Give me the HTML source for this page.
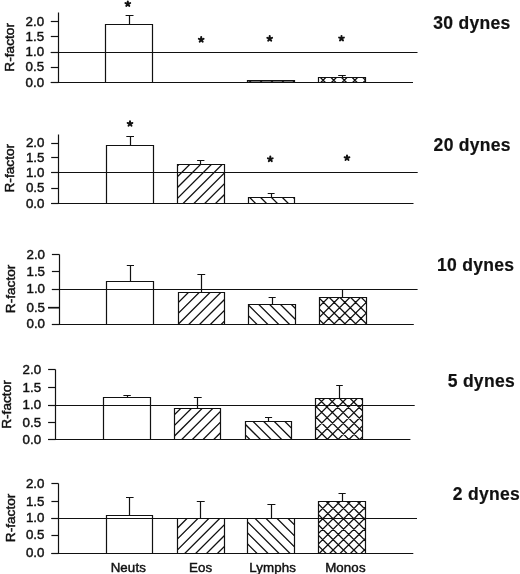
<!DOCTYPE html>
<html><head><meta charset="utf-8"><style>
html,body{margin:0;padding:0;background:#fff;width:520px;height:574px;overflow:hidden}
svg{display:block;filter:grayscale(1)}
text{font-family:"Liberation Sans", sans-serif;fill:#111;stroke:#111;stroke-width:0.3px}
.tk{font-size:13.3px;stroke-width:0.45px}
.yl{font-size:13.7px;stroke-width:0.45px}
.xl{font-size:13.3px;letter-spacing:0.12px;stroke-width:0.45px}
.ti{font-size:17.5px;font-weight:bold;stroke-width:0.2px;letter-spacing:0.3px}
</style></head><body>
<svg width="520" height="574" viewBox="0 0 520 574">
<defs><clipPath id="c02"><rect x="247.5" y="80.5" width="47.0" height="2.0"/></clipPath><clipPath id="c03"><rect x="318.5" y="77.5" width="47.0" height="5.0"/></clipPath><clipPath id="c11"><rect x="177.5" y="164.5" width="47.0" height="39.0"/></clipPath><clipPath id="c12"><rect x="248.5" y="197.5" width="46.0" height="6.0"/></clipPath><clipPath id="c21"><rect x="178.5" y="292.5" width="46.0" height="32.0"/></clipPath><clipPath id="c22"><rect x="248.5" y="304.5" width="47.0" height="20.0"/></clipPath><clipPath id="c23"><rect x="319.5" y="297.5" width="47.0" height="27.0"/></clipPath><clipPath id="c31"><rect x="174.5" y="408.5" width="46.0" height="31.0"/></clipPath><clipPath id="c32"><rect x="245.5" y="421.5" width="46.0" height="18.0"/></clipPath><clipPath id="c33"><rect x="315.5" y="398.5" width="47.0" height="41.0"/></clipPath><clipPath id="c41"><rect x="177.5" y="518.5" width="47.0" height="35.0"/></clipPath><clipPath id="c42"><rect x="247.5" y="518.5" width="47.0" height="35.0"/></clipPath><clipPath id="c43"><rect x="318.5" y="501.5" width="47.0" height="52.0"/></clipPath></defs>
<path d="M129.5 24.5V15.5M125.6 15.5H133.5" stroke="#111" stroke-width="1.2" fill="none"/>
<path d="M105.5 82.5V24.5H152.5V82.5" stroke="#111" stroke-width="1.2" fill="none"/>
<rect x="247.5" y="80.5" width="47.0" height="2.0" fill="#777"/>
<path clip-path="url(#c02)" d="M235.30 77.5L243.30 85.5M246.20 77.5L254.20 85.5M257.10 77.5L265.10 85.5M268.00 77.5L276.00 85.5M278.90 77.5L286.90 85.5M289.80 77.5L297.80 85.5" stroke="#111" stroke-width="1.3" fill="none"/>
<path d="M247.5 82.5V80.5H294.5V82.5" stroke="#111" stroke-width="1.2" fill="none"/>
<path clip-path="url(#c03)" d="M318.20 74.5L307.20 85.5M328.80 74.5L317.80 85.5M339.40 74.5L328.40 85.5M350.00 74.5L339.00 85.5M360.60 74.5L349.60 85.5M371.20 74.5L360.20 85.5M306.80 74.5L317.80 85.5M317.40 74.5L328.40 85.5M328.00 74.5L339.00 85.5M338.60 74.5L349.60 85.5M349.20 74.5L360.20 85.5M359.80 74.5L370.80 85.5" stroke="#111" stroke-width="1.3" fill="none"/>
<path d="M342.5 77.5V75.5M338.2 75.5H345.8" stroke="#111" stroke-width="1.2" fill="none"/>
<path d="M318.5 82.5V77.5H365.5V82.5" stroke="#111" stroke-width="1.2" fill="none"/>
<path d="M58.5 12.5V82.5" stroke="#111" stroke-width="1.2" fill="none"/>
<path d="M50.8 82.5H58.5" stroke="#111" stroke-width="1.2"/>
<path d="M50.8 67.5H58.5" stroke="#111" stroke-width="1.2"/>
<path d="M50.8 52.5H58.5" stroke="#111" stroke-width="1.2"/>
<path d="M50.8 36.5H58.5" stroke="#111" stroke-width="1.2"/>
<path d="M50.8 21.5H58.5" stroke="#111" stroke-width="1.2"/>
<path d="M50.8 82.5H413" stroke="#111" stroke-width="1.2"/>
<path d="M50.8 52.5H417.5" stroke="#111" stroke-width="1.2"/>
<text x="44.1" y="86.6" text-anchor="end" class="tk">0.0</text>
<text x="44.1" y="71.3" text-anchor="end" class="tk">0.5</text>
<text x="44.1" y="56.4" text-anchor="end" class="tk">1.0</text>
<text x="44.1" y="41.0" text-anchor="end" class="tk">1.5</text>
<text x="44.1" y="25.8" text-anchor="end" class="tk">2.0</text>
<text transform="translate(14.0,47.3) rotate(-90)" text-anchor="middle" class="yl">R-factor</text>
<text x="433.2" y="29.4" class="ti">30 dynes</text>
<path d="M127.80 3.90L127.80 1.40M127.80 3.90L130.18 3.13M127.80 3.90L129.27 5.92M127.80 3.90L126.33 5.92M127.80 3.90L125.42 3.13" stroke="#111" stroke-width="2.0" stroke-linecap="round" fill="none"/>
<path d="M201.20 39.60L201.20 37.10M201.20 39.60L203.58 38.83M201.20 39.60L202.67 41.62M201.20 39.60L199.73 41.62M201.20 39.60L198.82 38.83" stroke="#111" stroke-width="2.0" stroke-linecap="round" fill="none"/>
<path d="M269.70 38.60L269.70 36.10M269.70 38.60L272.08 37.83M269.70 38.60L271.17 40.62M269.70 38.60L268.23 40.62M269.70 38.60L267.32 37.83" stroke="#111" stroke-width="2.0" stroke-linecap="round" fill="none"/>
<path d="M341.50 38.40L341.50 35.90M341.50 38.40L343.88 37.63M341.50 38.40L342.97 40.42M341.50 38.40L340.03 40.42M341.50 38.40L339.12 37.63" stroke="#111" stroke-width="2.0" stroke-linecap="round" fill="none"/>
<path d="M130.5 145.5V136.5M126.3 136.5H134" stroke="#111" stroke-width="1.2" fill="none"/>
<path d="M106.5 203.5V145.5H153.5V203.5" stroke="#111" stroke-width="1.2" fill="none"/>
<path clip-path="url(#c11)" d="M171.10 161.5L126.10 206.5M181.90 161.5L136.90 206.5M192.70 161.5L147.70 206.5M203.50 161.5L158.50 206.5M214.30 161.5L169.30 206.5M225.10 161.5L180.10 206.5M235.90 161.5L190.90 206.5M246.70 161.5L201.70 206.5M257.50 161.5L212.50 206.5M268.30 161.5L223.30 206.5" stroke="#111" stroke-width="1.3" fill="none"/>
<path d="M200.5 164.5V160.5M197.1 160.5H204.4" stroke="#111" stroke-width="1.2" fill="none"/>
<path d="M177.5 203.5V164.5H224.5V203.5" stroke="#111" stroke-width="1.2" fill="none"/>
<path clip-path="url(#c12)" d="M235.80 194.5L247.80 206.5M246.70 194.5L258.70 206.5M257.60 194.5L269.60 206.5M268.50 194.5L280.50 206.5M279.40 194.5L291.40 206.5M290.30 194.5L302.30 206.5" stroke="#111" stroke-width="1.3" fill="none"/>
<path d="M271.5 197.5V193.5M267.7 193.5H274.6" stroke="#111" stroke-width="1.2" fill="none"/>
<path d="M248.5 203.5V197.5H294.5V203.5" stroke="#111" stroke-width="1.2" fill="none"/>
<path d="M58.5 134.5V203.5" stroke="#111" stroke-width="1.2" fill="none"/>
<path d="M51.2 203.5H58.5" stroke="#111" stroke-width="1.2"/>
<path d="M51.2 188.5H58.5" stroke="#111" stroke-width="1.2"/>
<path d="M51.2 172.5H58.5" stroke="#111" stroke-width="1.2"/>
<path d="M51.2 157.5H58.5" stroke="#111" stroke-width="1.2"/>
<path d="M51.2 143.5H58.5" stroke="#111" stroke-width="1.2"/>
<path d="M51.2 203.5H413.5" stroke="#111" stroke-width="1.2"/>
<path d="M51.2 172.5H417.7" stroke="#111" stroke-width="1.2"/>
<text x="44.4" y="207.6" text-anchor="end" class="tk">0.0</text>
<text x="44.4" y="192.2" text-anchor="end" class="tk">0.5</text>
<text x="44.4" y="176.8" text-anchor="end" class="tk">1.0</text>
<text x="44.4" y="161.9" text-anchor="end" class="tk">1.5</text>
<text x="44.4" y="147.2" text-anchor="end" class="tk">2.0</text>
<text transform="translate(14.3,168.2) rotate(-90)" text-anchor="middle" class="yl">R-factor</text>
<text x="433.6" y="150.6" class="ti">20 dynes</text>
<path d="M130.00 123.70L130.00 121.20M130.00 123.70L132.38 122.93M130.00 123.70L131.47 125.72M130.00 123.70L128.53 125.72M130.00 123.70L127.62 122.93" stroke="#111" stroke-width="2.0" stroke-linecap="round" fill="none"/>
<path d="M270.30 159.10L270.30 156.60M270.30 159.10L272.68 158.33M270.30 159.10L271.77 161.12M270.30 159.10L268.83 161.12M270.30 159.10L267.92 158.33" stroke="#111" stroke-width="2.0" stroke-linecap="round" fill="none"/>
<path d="M347.00 158.00L347.00 155.50M347.00 158.00L349.38 157.23M347.00 158.00L348.47 160.02M347.00 158.00L345.53 160.02M347.00 158.00L344.62 157.23" stroke="#111" stroke-width="2.0" stroke-linecap="round" fill="none"/>
<path d="M130.5 281.5V265.5M126.8 265.5H134" stroke="#111" stroke-width="1.2" fill="none"/>
<path d="M106.5 324.5V281.5H153.5V324.5" stroke="#111" stroke-width="1.2" fill="none"/>
<path clip-path="url(#c21)" d="M169.84 289.5L131.84 327.5M180.62 289.5L142.62 327.5M191.40 289.5L153.40 327.5M202.18 289.5L164.18 327.5M212.96 289.5L174.96 327.5M223.74 289.5L185.74 327.5M234.52 289.5L196.52 327.5M245.30 289.5L207.30 327.5M256.08 289.5L218.08 327.5" stroke="#111" stroke-width="1.3" fill="none"/>
<path d="M201.5 292.5V274.5M197.4 274.5H205.2" stroke="#111" stroke-width="1.2" fill="none"/>
<path d="M178.5 324.5V292.5H224.5V324.5" stroke="#111" stroke-width="1.2" fill="none"/>
<path clip-path="url(#c22)" d="M223.25 301.5L249.25 327.5M234.10 301.5L260.10 327.5M244.95 301.5L270.95 327.5M255.80 301.5L281.80 327.5M266.65 301.5L292.65 327.5M277.50 301.5L303.50 327.5M288.35 301.5L314.35 327.5" stroke="#111" stroke-width="1.3" fill="none"/>
<path d="M272.5 304.5V297.5M268.6 297.5H275.7" stroke="#111" stroke-width="1.2" fill="none"/>
<path d="M248.5 324.5V304.5H295.5V324.5" stroke="#111" stroke-width="1.2" fill="none"/>
<path clip-path="url(#c23)" d="M310.00 294.5L277.00 327.5M320.70 294.5L287.70 327.5M331.40 294.5L298.40 327.5M342.10 294.5L309.10 327.5M352.80 294.5L319.80 327.5M363.50 294.5L330.50 327.5M374.20 294.5L341.20 327.5M384.90 294.5L351.90 327.5M395.60 294.5L362.60 327.5M283.50 294.5L316.50 327.5M294.20 294.5L327.20 327.5M304.90 294.5L337.90 327.5M315.60 294.5L348.60 327.5M326.30 294.5L359.30 327.5M337.00 294.5L370.00 327.5M347.70 294.5L380.70 327.5M358.40 294.5L391.40 327.5" stroke="#111" stroke-width="1.3" fill="none"/>
<path d="M342.5 297.5V289.5M339 289.5H346" stroke="#111" stroke-width="1.2" fill="none"/>
<path d="M319.5 324.5V297.5H366.5V324.5" stroke="#111" stroke-width="1.2" fill="none"/>
<path d="M59.5 254.5V324.5" stroke="#111" stroke-width="1.2" fill="none"/>
<path d="M51.9 324.5H59.5" stroke="#111" stroke-width="1.2"/>
<path d="M48 307.7H59.5" stroke="#111" stroke-width="1.7"/>
<path d="M51.9 289.5H59.5" stroke="#111" stroke-width="1.2"/>
<path d="M51.9 271.5H59.5" stroke="#111" stroke-width="1.2"/>
<path d="M51.9 254.5H59.5" stroke="#111" stroke-width="1.2"/>
<path d="M51.9 324.5H413.8" stroke="#111" stroke-width="1.2"/>
<path d="M51.9 289.5H417.6" stroke="#111" stroke-width="1.2"/>
<text x="45.0" y="328.3" text-anchor="end" class="tk">0.0</text>
<text x="45.0" y="311.8" text-anchor="end" class="tk">0.5</text>
<text x="45.0" y="293.3" text-anchor="end" class="tk">1.0</text>
<text x="45.0" y="275.5" text-anchor="end" class="tk">1.5</text>
<text x="45.0" y="258.5" text-anchor="end" class="tk">2.0</text>
<text transform="translate(14.5,288.9) rotate(-90)" text-anchor="middle" class="yl">R-factor</text>
<text x="437.0" y="271.3" class="ti">10 dynes</text>
<path d="M127.5 397.5V395.5M123.4 395.5H130.8" stroke="#111" stroke-width="1.2" fill="none"/>
<path d="M103.5 439.5V397.5H150.5V439.5" stroke="#111" stroke-width="1.2" fill="none"/>
<path clip-path="url(#c31)" d="M173.03 405.5L136.03 442.5M183.70 405.5L146.70 442.5M194.37 405.5L157.37 442.5M205.04 405.5L168.04 442.5M215.71 405.5L178.71 442.5M226.38 405.5L189.38 442.5M237.05 405.5L200.05 442.5M247.72 405.5L210.72 442.5" stroke="#111" stroke-width="1.3" fill="none"/>
<path d="M197.5 408.5V397.5M193.9 397.5H201.7" stroke="#111" stroke-width="1.2" fill="none"/>
<path d="M174.5 439.5V408.5H220.5V439.5" stroke="#111" stroke-width="1.2" fill="none"/>
<path clip-path="url(#c32)" d="M218.30 418.5L242.30 442.5M228.90 418.5L252.90 442.5M239.50 418.5L263.50 442.5M250.10 418.5L274.10 442.5M260.70 418.5L284.70 442.5M271.30 418.5L295.30 442.5M281.90 418.5L305.90 442.5" stroke="#111" stroke-width="1.3" fill="none"/>
<path d="M268.5 421.5V417.5M265 417.5H272.1" stroke="#111" stroke-width="1.2" fill="none"/>
<path d="M245.5 439.5V421.5H291.5V439.5" stroke="#111" stroke-width="1.2" fill="none"/>
<path clip-path="url(#c33)" d="M305.70 395.5L258.70 442.5M316.60 395.5L269.60 442.5M327.50 395.5L280.50 442.5M338.40 395.5L291.40 442.5M349.30 395.5L302.30 442.5M360.20 395.5L313.20 442.5M371.10 395.5L324.10 442.5M382.00 395.5L335.00 442.5M392.90 395.5L345.90 442.5M403.80 395.5L356.80 442.5M262.45 395.5L309.45 442.5M273.05 395.5L320.05 442.5M283.65 395.5L330.65 442.5M294.25 395.5L341.25 442.5M304.85 395.5L351.85 442.5M315.45 395.5L362.45 442.5M326.05 395.5L373.05 442.5M336.65 395.5L383.65 442.5M347.25 395.5L394.25 442.5M357.85 395.5L404.85 442.5" stroke="#111" stroke-width="1.3" fill="none"/>
<path d="M339.5 398.5V385.5M336.2 385.5H342.8" stroke="#111" stroke-width="1.2" fill="none"/>
<path d="M315.5 439.5V398.5H362.5V439.5" stroke="#111" stroke-width="1.2" fill="none"/>
<path d="M55.5 369.5V439.5" stroke="#111" stroke-width="1.2" fill="none"/>
<path d="M48.1 439.5H55.5" stroke="#111" stroke-width="1.2"/>
<path d="M48.1 422.5H55.5" stroke="#111" stroke-width="1.2"/>
<path d="M48.1 405.5H55.5" stroke="#111" stroke-width="1.2"/>
<path d="M48.1 387.5H55.5" stroke="#111" stroke-width="1.2"/>
<path d="M48.1 369.5H55.5" stroke="#111" stroke-width="1.2"/>
<path d="M48.1 439.5H410.4" stroke="#111" stroke-width="1.2"/>
<path d="M48.1 405.5H414.7" stroke="#111" stroke-width="1.2"/>
<text x="41.1" y="443.7" text-anchor="end" class="tk">0.0</text>
<text x="41.1" y="426.5" text-anchor="end" class="tk">0.5</text>
<text x="41.1" y="409.2" text-anchor="end" class="tk">1.0</text>
<text x="41.1" y="391.5" text-anchor="end" class="tk">1.5</text>
<text x="41.1" y="373.8" text-anchor="end" class="tk">2.0</text>
<text transform="translate(11.3,404.5) rotate(-90)" text-anchor="middle" class="yl">R-factor</text>
<text x="447.7" y="387.2" class="ti">5 dynes</text>
<path d="M129.5 515.5V497.5M126 497.5H133.6" stroke="#111" stroke-width="1.2" fill="none"/>
<path d="M106.5 553.5V515.5H152.5V553.5" stroke="#111" stroke-width="1.2" fill="none"/>
<path clip-path="url(#c41)" d="M168.20 515.5L127.20 556.5M179.10 515.5L138.10 556.5M190.00 515.5L149.00 556.5M200.90 515.5L159.90 556.5M211.80 515.5L170.80 556.5M222.70 515.5L181.70 556.5M233.60 515.5L192.60 556.5M244.50 515.5L203.50 556.5M255.40 515.5L214.40 556.5" stroke="#111" stroke-width="1.3" fill="none"/>
<path d="M200.5 518.5V501.5M196.8 501.5H204.7" stroke="#111" stroke-width="1.2" fill="none"/>
<path d="M177.5 553.5V518.5H224.5V553.5" stroke="#111" stroke-width="1.2" fill="none"/>
<path clip-path="url(#c42)" d="M197.10 515.5L238.10 556.5M208.10 515.5L249.10 556.5M219.10 515.5L260.10 556.5M230.10 515.5L271.10 556.5M241.10 515.5L282.10 556.5M252.10 515.5L293.10 556.5M263.10 515.5L304.10 556.5M274.10 515.5L315.10 556.5M285.10 515.5L326.10 556.5" stroke="#111" stroke-width="1.3" fill="none"/>
<path d="M271.5 518.5V504.5M267.4 504.5H275.4" stroke="#111" stroke-width="1.2" fill="none"/>
<path d="M247.5 553.5V518.5H294.5V553.5" stroke="#111" stroke-width="1.2" fill="none"/>
<path clip-path="url(#c43)" d="M311.80 498.5L253.80 556.5M322.20 498.5L264.20 556.5M332.60 498.5L274.60 556.5M343.00 498.5L285.00 556.5M353.40 498.5L295.40 556.5M363.80 498.5L305.80 556.5M374.20 498.5L316.20 556.5M384.60 498.5L326.60 556.5M395.00 498.5L337.00 556.5M405.40 498.5L347.40 556.5M415.80 498.5L357.80 556.5M260.80 498.5L318.80 556.5M271.20 498.5L329.20 556.5M281.60 498.5L339.60 556.5M292.00 498.5L350.00 556.5M302.40 498.5L360.40 556.5M312.80 498.5L370.80 556.5M323.20 498.5L381.20 556.5M333.60 498.5L391.60 556.5M344.00 498.5L402.00 556.5M354.40 498.5L412.40 556.5" stroke="#111" stroke-width="1.3" fill="none"/>
<path d="M342.5 501.5V493.5M338.5 493.5H345.7" stroke="#111" stroke-width="1.2" fill="none"/>
<path d="M318.5 553.5V501.5H365.5V553.5" stroke="#111" stroke-width="1.2" fill="none"/>
<path d="M58.5 483.5V553.5" stroke="#111" stroke-width="1.2" fill="none"/>
<path d="M51.4 553.5H58.5" stroke="#111" stroke-width="1.2"/>
<path d="M51.4 535.5H58.5" stroke="#111" stroke-width="1.2"/>
<path d="M51.4 518.5H58.5" stroke="#111" stroke-width="1.2"/>
<path d="M51.4 501.5H58.5" stroke="#111" stroke-width="1.2"/>
<path d="M51.4 483.5H58.5" stroke="#111" stroke-width="1.2"/>
<path d="M51.4 553.5H413.3" stroke="#111" stroke-width="1.2"/>
<path d="M51.4 518.5H417" stroke="#111" stroke-width="1.2"/>
<text x="44.4" y="557.4" text-anchor="end" class="tk">0.0</text>
<text x="44.4" y="539.4" text-anchor="end" class="tk">0.5</text>
<text x="44.4" y="522.2" text-anchor="end" class="tk">1.0</text>
<text x="44.4" y="505.5" text-anchor="end" class="tk">1.5</text>
<text x="44.4" y="487.8" text-anchor="end" class="tk">2.0</text>
<text transform="translate(14.5,517.9) rotate(-90)" text-anchor="middle" class="yl">R-factor</text>
<text x="452.8" y="500.4" class="ti">2 dynes</text>
<text x="128.3" y="571.5" text-anchor="middle" class="xl">Neuts</text>
<text x="200.7" y="571.5" text-anchor="middle" class="xl">Eos</text>
<text x="272.7" y="571.5" text-anchor="middle" class="xl">Lymphs</text>
<text x="345.4" y="571.5" text-anchor="middle" class="xl">Monos</text>
</svg>
</body></html>
